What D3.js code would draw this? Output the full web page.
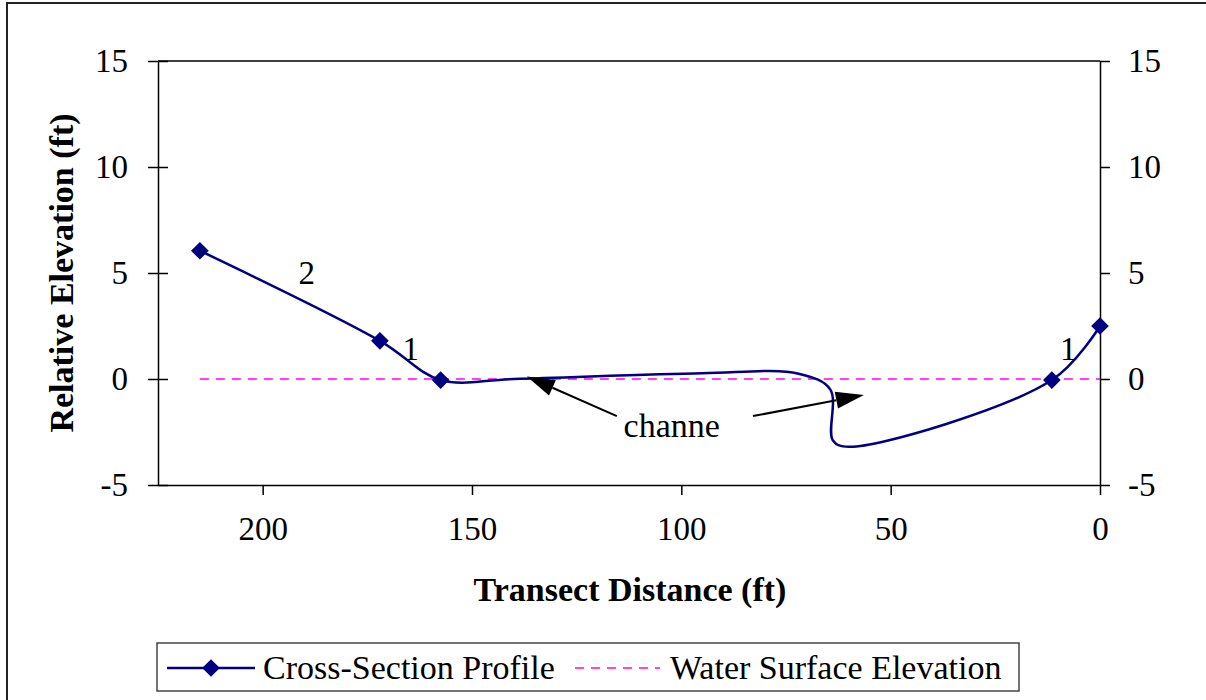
<!DOCTYPE html>
<html>
<head>
<meta charset="utf-8">
<script src="https://cdn.jsdelivr.net/npm/d3@7"></script>
<style>
  body { margin: 0; background: #fff; }
  text { font-family: "Liberation Serif", "Times New Roman", serif; }
</style>
</head>
<body>
<script>
// Cross-section profile (x = transect distance, y = relative elevation)
const profileX = [215, 172, 157.5, 140, 95, 72, 64.4, 63.8, 60, 11.5, 0];
const profileY = [6.05, 1.8, -0.05, 0.0, 0.27, 0.25, -0.5, -2.9, -3.2, -0.05, 2.5];
// which profile points carry a marker
const markedIdx = [0, 1, 2, 9, 10];

// water surface
const waterX = [215, 0];
const waterY = [0, 0];

const xTicks = [200, 150, 100, 50, 0];
const yTicks = [-5, 0, 5, 10, 15];

const seriesNames = ["Cross-Section Profile", "Water Surface Elevation"];

// annotations in data units
const slopeLabels = [
  { x: 189.5, y: 4.5, text: "2" },
  { x: 164.6, y: 0.9, text: "1" },
  { x: 7.6, y: 0.9, text: "1" }
];
const channelLabel = { x: 102.3, y: -2.74, text: "channe" };
const arrows = [
  { x1: 115.4, y1: -1.75, x2: 136.9, y2: 0.12 },
  { x1: 82.9, y1: -1.75, x2: 56.4, y2: -0.75 }
];

const width = 1206, height = 700;
const navy = "#000080", magenta = "#ff00ff";
const fs = 33;

const svg = d3.select("body").append("svg")
  .attr("width", width)
  .attr("height", height);

// outer chart frame
svg.append("rect")
  .attr("x", 7).attr("y", 3)
  .attr("width", width + 20).attr("height", height + 20)
  .attr("fill", "none").attr("stroke", "#222").attr("stroke-width", 2);

const x = d3.scaleLinear().domain([225, 0]).range([158, 1100]);
const y = d3.scaleLinear().domain([-5, 15]).range([485, 61]);

// top border of plot area
svg.append("line")
  .attr("x1", x(225)).attr("x2", x(0))
  .attr("y1", y(15)).attr("y2", y(15))
  .attr("stroke", "#000").attr("stroke-width", 1.5);

const fmt = d => String(d);

// left axis (cross ticks)
const gl = svg.append("g")
  .attr("transform", `translate(${x(225)},0)`)
  .call(d3.axisLeft(y).tickValues(yTicks).tickFormat(fmt).tickSize(10).tickSizeOuter(0).tickPadding(20));
gl.selectAll(".tick").append("line").attr("x2", 10).attr("stroke", "#000");

// right axis
const gr = svg.append("g")
  .attr("transform", `translate(${x(0)},0)`)
  .call(d3.axisRight(y).tickValues(yTicks).tickFormat(fmt).tickSize(10).tickSizeOuter(0).tickPadding(18));

// bottom axis
const gb = svg.append("g")
  .attr("transform", `translate(0,${y(-5)})`)
  .call(d3.axisBottom(x).tickValues(xTicks).tickFormat(fmt).tickSize(10).tickSizeOuter(0).tickPadding(22));

[gl, gr, gb].forEach(g => {
  g.selectAll("path, line").attr("stroke", "#000").attr("stroke-width", 1.5);
  g.selectAll("text").attr("fill", "#000")
    .style("font-family", '"Liberation Serif", serif').style("font-size", fs + "px");
});
gb.selectAll("text").attr("dy", "0.71em");

// axis titles
svg.append("text")
  .attr("transform", `translate(73,${(y(15) + y(-5)) / 2}) rotate(-90)`)
  .attr("text-anchor", "middle")
  .style("font-size", "34px").style("font-weight", "bold")
  .text("Relative Elevation (ft)");

svg.append("text")
  .attr("x", (x(225) + x(0)) / 2 + 1).attr("y", 601)
  .attr("text-anchor", "middle")
  .style("font-size", "34px").style("font-weight", "bold")
  .text("Transect Distance (ft)");

// water surface line
const waterPts = waterX.map((d, i) => [d, waterY[i]]);
svg.append("path")
  .datum(waterPts)
  .attr("fill", "none")
  .attr("stroke", magenta)
  .attr("stroke-width", 1.3)
  .attr("stroke-dasharray", "9,7")
  .attr("d", d3.line().x(d => x(d[0])).y(d => y(d[1])));

// profile line
const profilePts = profileX.map((d, i) => [d, profileY[i]]);
svg.append("path")
  .datum(profilePts)
  .attr("fill", "none")
  .attr("stroke", navy)
  .attr("stroke-width", 2.5)
  .attr("d", d3.line().x(d => x(d[0])).y(d => y(d[1])).curve(d3.curveCatmullRom.alpha(0.5)));

const diamond = d3.symbol().type(d3.symbolDiamond2).size(200);
svg.append("g").selectAll("path")
  .data(markedIdx.map(i => profilePts[i]))
  .join("path")
  .attr("transform", d => `translate(${x(d[0])},${y(d[1])})`)
  .attr("d", diamond)
  .attr("fill", navy);

// annotations
svg.append("g").selectAll("text")
  .data(slopeLabels)
  .join("text")
  .attr("x", d => x(d.x)).attr("y", d => y(d.y))
  .attr("text-anchor", "middle")
  .style("font-size", fs + "px")
  .text(d => d.text);

svg.append("text")
  .attr("x", x(channelLabel.x)).attr("y", y(channelLabel.y))
  .attr("text-anchor", "middle")
  .style("font-size", "34px")
  .text(channelLabel.text);

arrows.forEach(a => {
  const x1 = x(a.x1), y1 = y(a.y1), x2 = x(a.x2), y2 = y(a.y2);
  const ang = Math.atan2(y2 - y1, x2 - x1);
  const len = 28, half = 8.5;
  const bx = x2 - len * Math.cos(ang), by = y2 - len * Math.sin(ang);
  svg.append("line")
    .attr("x1", x1).attr("y1", y1).attr("x2", bx).attr("y2", by)
    .attr("stroke", "#000").attr("stroke-width", 2);
  const px = -Math.sin(ang) * half, py = Math.cos(ang) * half;
  svg.append("polygon")
    .attr("points", [[x2, y2], [bx + px, by + py], [bx - px, by - py]].map(p => p.join(",")).join(" "))
    .attr("fill", "#000");
});

// legend
const lg = svg.append("g");
lg.append("rect")
  .attr("x", 157).attr("y", 643).attr("width", 862).attr("height", 48)
  .attr("fill", "#fff").attr("stroke", "#444").attr("stroke-width", 1.5);
lg.append("line")
  .attr("x1", 167).attr("x2", 255).attr("y1", 668).attr("y2", 668)
  .attr("stroke", navy).attr("stroke-width", 2.5);
lg.append("path")
  .attr("transform", "translate(211,668)")
  .attr("d", diamond).attr("fill", navy);
lg.append("text")
  .attr("x", 263).attr("y", 679)
  .style("font-size", "34px")
  .text(seriesNames[0]);
lg.append("line")
  .attr("x1", 575).attr("x2", 660).attr("y1", 668).attr("y2", 668)
  .attr("stroke", magenta).attr("stroke-width", 1.3)
  .attr("stroke-dasharray", "9,7");
lg.append("text")
  .attr("x", 670).attr("y", 679)
  .style("font-size", "34px")
  .text(seriesNames[1]);
</script>
</body>
</html>
